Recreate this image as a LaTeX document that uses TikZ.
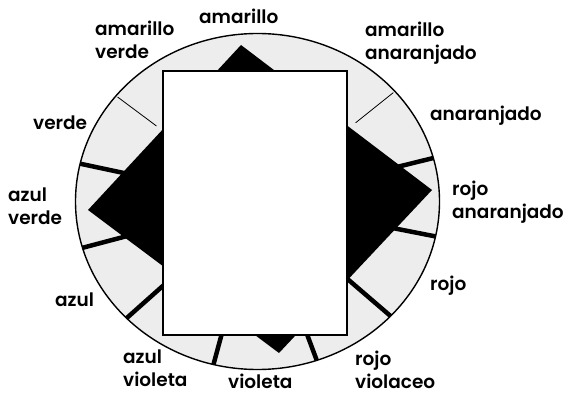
\documentclass[tikz,border=0pt]{standalone}
\usepackage{fontspec}
\setmainfont{Poppins}[UprightFont=* SemiBold]
\usetikzlibrary{calc}

\begin{document}
\begin{tikzpicture}[x=1pt,y=-1pt,
  lab/.style={align=left, inner sep=0pt, anchor=west, font=\fontsize{18.5}{22.5}\selectfont},
  tickline/.style={line width=4.5pt},
  faintline/.style={line width=0.8pt}]
\useasboundingbox (0,0) rectangle (570,395);
\coordinate (c) at (257.5,201.5);
% wheel
\draw[line width=1.4pt, fill=black!7] (c) ellipse [x radius=182pt, y radius=168pt];
\foreach \a in {15,167,196,224,256,289,317,348}
  \draw[tickline] ($(c)+(\a:182pt and 168pt)$) -- ($(c)+(\a:118pt and 109pt)$);
\foreach \a in {41,141}
  \draw[faintline] ($(c)+(\a:180pt and 166pt)$) -- ($(c)+(\a:130pt and 120pt)$);
% square and card
\fill (241,45) -- (432,190) -- (279,353) -- (88,210) -- cycle;
\draw[line width=1.4pt, fill=white] (163,71) rectangle (347,335);
% labels
\node[lab] (am) at (199,16) {amarillo};
\node[lab] (amv) at (95,40) {amarillo\\verde};
\node[lab] (amn) at (365,43) {amarillo\\anaranjado};
\node[lab] (an) at (430,116) {anaranjado};
\node[lab] (ran) at (452,202) {rojo\\anaranjado};
\node[lab] (ro) at (430,286) {rojo};
\node[lab] (rv) at (355,370) {rojo\\violaceo};
\node[lab] (vi) at (228,381) {violeta};
\node[lab] (azv) at (123,368) {azul\\violeta};
\node[lab] (az) at (55,300) {azul};
\node[lab] (azve) at (8,206) {azul\\verde};
\node[lab] (ve) at (33,123) {verde};
\end{tikzpicture}
\end{document}
